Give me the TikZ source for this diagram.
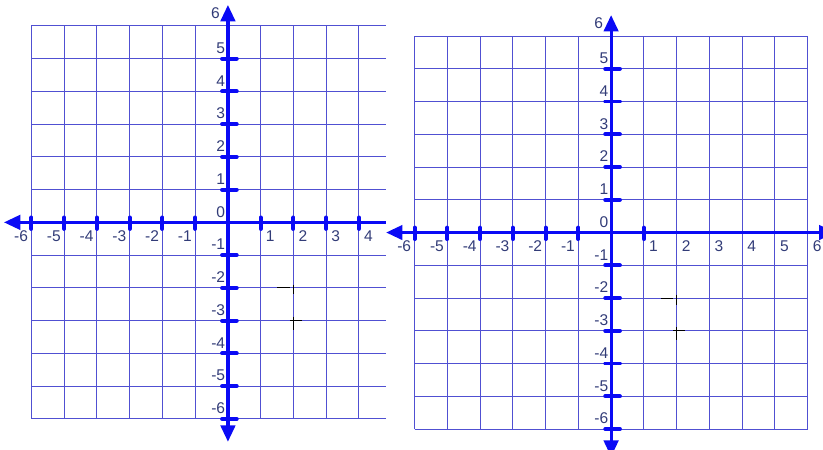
\documentclass[tikz,border=0pt]{standalone}
\usepackage{fontspec}
\setmainfont{Liberation Sans}
\usetikzlibrary{arrows.meta}
\definecolor{gridblue}{RGB}{80,80,210}
\definecolor{axisblue}{RGB}{10,10,245}
\definecolor{inkgrey}{RGB}{50,60,120}
\tikzset{
  gridline/.style={gridblue, line width=0.9pt},
  axisline/.style={axisblue, line width=2.8pt},
  tickmark/.style={axisblue, line width=3.4pt, line cap=round},
  numlabel/.style={inkgrey, inner sep=0pt, font=\fontsize{13.5}{13.5}\selectfont},
  pencil/.style={black, line width=0.7pt},
  headtip/.tip={Triangle[length=5mm, width=4.4mm]}
}

\begin{document}
\begin{tikzpicture}

        \useasboundingbox (0,0) rectangle (25.13,-13.74);
        \clip (0,0) rectangle (25.13,-13.74);

        % left plane, cut off on the right
        \begin{scope}[shift={(6.96,-6.79)}]
        \draw[gridline] (-6,-6) grid (4.82,6);
        \draw[axisline, headtip-] (-6.84,0) -- (4.82,0);
        \draw[axisline, headtip-headtip] (0,-6.7) -- (0,6.64);
        \foreach \k in {-6,...,-1,1,2,3,4}
            \draw[tickmark] (\k,0.15) -- (\k,-0.2);
        \foreach \k in {-6,...,-1,1,2,3,4,5}
            \draw[tickmark] (-0.18,\k) -- (0.27,\k);
        \foreach \k in {-6,...,-1}
            \node[numlabel, anchor=north east] at (\k-0.1,-0.24) {\k};
        \foreach \k in {1,...,4}
            \node[numlabel, anchor=north west] at (\k+0.15,-0.24) {\k};
        \foreach \k in {-6,...,5}
            \node[numlabel, anchor=base east] at (-0.08,\k+0.16) {\k};
        \node[numlabel, anchor=base east] at (-0.24,6.24) {6};
        \draw[pencil] (1.5,-2) -- (1.89,-2);
        \draw[pencil] (2,-1.9) -- (2,-2.2);
        \draw[pencil] (1.89,-3) -- (2.26,-3);
        \draw[pencil] (2,-2.88) -- (2,-3.28);
        \end{scope}

        % right plane
        \begin{scope}[shift={(18.66,-7.10)}]
        \draw[gridline] (-6,-6) grid (6,6);
        \draw[axisline, headtip-headtip] (-6.87,0) -- (6.85,0);
        \draw[axisline, headtip-headtip] (0,-6.85) -- (0,6.64);
        \foreach \k in {-6,...,-1,1,...,6}
            \draw[tickmark] (\k,0.15) -- (\k,-0.2);
        \foreach \k in {-6,...,-1,1,2,3,4,5}
            \draw[tickmark] (-0.18,\k) -- (0.27,\k);
        \foreach \k in {-6,...,-1}
            \node[numlabel, anchor=north east] at (\k-0.1,-0.24) {\k};
        \foreach \k in {1,...,6}
            \node[numlabel, anchor=north west] at (\k+0.15,-0.24) {\k};
        \foreach \k in {-6,...,5}
            \node[numlabel, anchor=base east] at (-0.08,\k+0.16) {\k};
        \node[numlabel, anchor=base east] at (-0.24,6.24) {6};
        \draw[pencil] (1.53,-2) -- (1.89,-2);
        \draw[pencil] (2,-1.9) -- (2,-2.2);
        \draw[pencil] (1.89,-3) -- (2.26,-3);
        \draw[pencil] (2,-2.88) -- (2,-3.28);
        \end{scope}

\end{tikzpicture}
\end{document}
